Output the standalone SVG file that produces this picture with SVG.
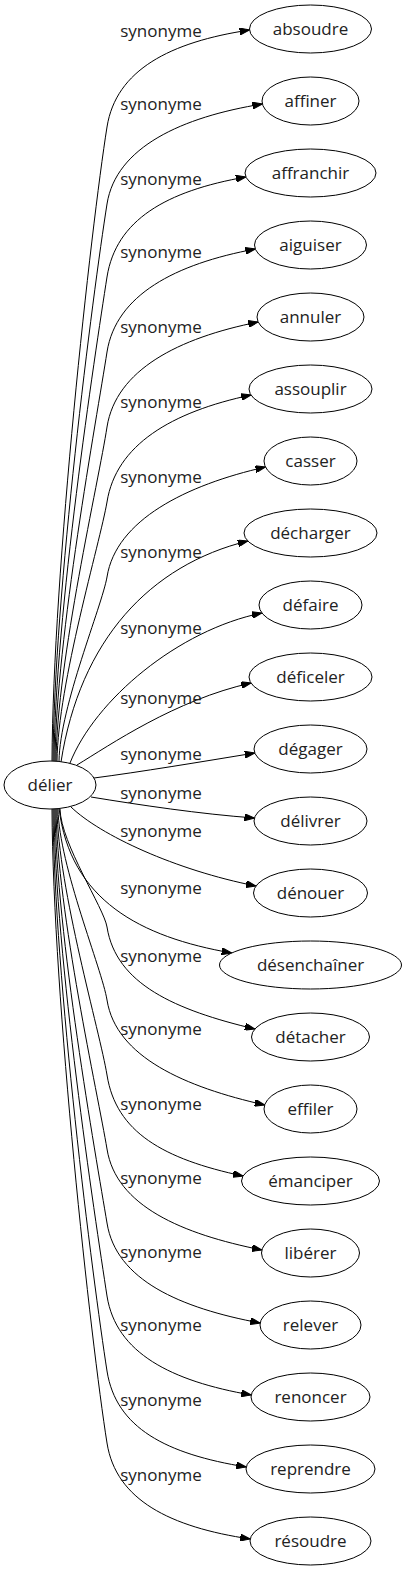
<svg xmlns="http://www.w3.org/2000/svg" width="407" height="1571" viewBox="0 0 407 1571">
<defs>
<marker id="arr" markerUnits="userSpaceOnUse" markerWidth="10" markerHeight="7" refX="10" refY="3.5" orient="auto">
<path d="M0,0 L10,3.5 L0,7 z" fill="#000" stroke="#000" stroke-width="1"/>
</marker>
<style>
.n ellipse{fill:#fff;stroke:#000;stroke-width:1}
.n text{font-family:"Open Sans","DejaVu Sans",sans-serif;font-size:17px;fill:#222;text-anchor:middle}
.e path{fill:none;stroke:#000;stroke-width:1;marker-end:url(#arr)}
.e text{font-family:"Open Sans","DejaVu Sans",sans-serif;font-size:17px;fill:#222;text-anchor:middle}
</style>
</defs>
<rect width="407" height="1571" fill="#fff"/>
<g id="connectors" class="e">
<path d="M52,761 C53,571 91,228 107,127 C116,70 170,42 249.6,30"/>
<path d="M53,761 C54,594 93,293 107,204 C116,147 182,117 262.4,104"/>
<path d="M54,761 C55,616 95,354 107,277 C116,220 166,191 245.9,177"/>
<path d="M55,761 C56,638 97,417 107,352 C116,295 175,264 255.3,249"/>
<path d="M56,761 C57,661 99,480 107,427 C116,370 178,338 258.2,322"/>
<path d="M57,761 C58,683 100,543 107,502 C116,445 171,412 251,395"/>
<path d="M59,761 C60,706 102,606 107,577 C116,520 186,485 265.5,467"/>
<path d="M61,762 C80,640 150,565 247.8,541"/>
<path d="M70,763 C95,700 178,630 261.9,613"/>
<path d="M77,765 C110,745 175,700 251,683"/>
<path d="M94,778 C140,772 200,762 254.8,753"/>
<path d="M91,797 C140,805 200,814 254.5,818"/>
<path d="M71,807 C100,835 175,870 256,886"/>
<path d="M59,808 C70,900 140,937 231.7,953"/>
<path d="M60,809 C61,844 104,908 107,927 C116,984 175,1010 254.9,1029"/>
<path d="M58,809 C59,866 102,969 107,1000 C116,1057 185,1087 264.7,1105"/>
<path d="M57,809 C58,889 100,1032 107,1075 C116,1132 163,1159 243,1176"/>
<path d="M56,809 C57,911 98,1095 107,1149 C116,1206 182,1234 261.9,1250"/>
<path d="M55,809 C56,933 96,1157 107,1223 C116,1280 180,1308 260.2,1323"/>
<path d="M54,809 C55,955 95,1218 107,1296 C116,1353 171,1381 251.2,1395"/>
<path d="M53,809 C54,978 93,1281 107,1371 C116,1428 166,1454 246.2,1467"/>
<path d="M52,809 C53,999 91,1342 107,1443 C116,1500 170,1527 250.2,1539"/>
<text x="161" y="37">synonyme</text>
<text x="161" y="110">synonyme</text>
<text x="161" y="185">synonyme</text>
<text x="161" y="258">synonyme</text>
<text x="161" y="333">synonyme</text>
<text x="161" y="408">synonyme</text>
<text x="161" y="483">synonyme</text>
<text x="161" y="558">synonyme</text>
<text x="161" y="634">synonyme</text>
<text x="161" y="704">synonyme</text>
<text x="161" y="760">synonyme</text>
<text x="161" y="799">synonyme</text>
<text x="161" y="837">synonyme</text>
<text x="161" y="894">synonyme</text>
<text x="161" y="962">synonyme</text>
<text x="161" y="1035">synonyme</text>
<text x="161" y="1110">synonyme</text>
<text x="161" y="1184">synonyme</text>
<text x="161" y="1258">synonyme</text>
<text x="161" y="1331">synonyme</text>
<text x="161" y="1406">synonyme</text>
<text x="161" y="1481">synonyme</text>
</g>
<g id="delier" class="n"><ellipse cx="50" cy="785" rx="46" ry="24"/><text x="50" y="790.5">délier</text></g>
<g id="absoudre" class="n"><ellipse cx="310.5" cy="29" rx="61" ry="24"/><text x="310.5" y="34.5">absoudre</text></g>
<g id="affiner" class="n"><ellipse cx="310.5" cy="101" rx="48.5" ry="24"/><text x="310.5" y="106.5">affiner</text></g>
<g id="affranchir" class="n"><ellipse cx="310.5" cy="173" rx="65.5" ry="24"/><text x="310.5" y="178.5">affranchir</text></g>
<g id="aiguiser" class="n"><ellipse cx="310.5" cy="245" rx="56" ry="24"/><text x="310.5" y="250.5">aiguiser</text></g>
<g id="annuler" class="n"><ellipse cx="310.5" cy="317" rx="53.5" ry="24"/><text x="310.5" y="322.5">annuler</text></g>
<g id="assouplir" class="n"><ellipse cx="310.5" cy="389" rx="61.5" ry="24"/><text x="310.5" y="394.5">assouplir</text></g>
<g id="casser" class="n"><ellipse cx="310.5" cy="461" rx="46.5" ry="24"/><text x="310.5" y="466.5">casser</text></g>
<g id="decharger" class="n"><ellipse cx="310.5" cy="533" rx="66.5" ry="24"/><text x="310.5" y="538.5">décharger</text></g>
<g id="defaire" class="n"><ellipse cx="310.5" cy="605" rx="51.5" ry="24"/><text x="310.5" y="610.5">défaire</text></g>
<g id="deficeler" class="n"><ellipse cx="310.5" cy="677" rx="61.5" ry="24"/><text x="310.5" y="682.5">déficeler</text></g>
<g id="degager" class="n"><ellipse cx="310.5" cy="749" rx="56.5" ry="24"/><text x="310.5" y="754.5">dégager</text></g>
<g id="delivrer" class="n"><ellipse cx="310.5" cy="821" rx="56.5" ry="24"/><text x="310.5" y="826.5">délivrer</text></g>
<g id="denouer" class="n"><ellipse cx="310.5" cy="893" rx="57" ry="24"/><text x="310.5" y="898.5">dénouer</text></g>
<g id="desenchainer" class="n"><ellipse cx="310.5" cy="965" rx="91" ry="24"/><text x="310.5" y="970.5">désenchaîner</text></g>
<g id="detacher" class="n"><ellipse cx="310.5" cy="1037" rx="59" ry="24"/><text x="310.5" y="1042.5">détacher</text></g>
<g id="effiler" class="n"><ellipse cx="310.5" cy="1109" rx="46.5" ry="24"/><text x="310.5" y="1114.5">effiler</text></g>
<g id="emanciper" class="n"><ellipse cx="310.5" cy="1181" rx="69" ry="24"/><text x="310.5" y="1186.5">émanciper</text></g>
<g id="liberer" class="n"><ellipse cx="310.5" cy="1253" rx="49" ry="24"/><text x="310.5" y="1258.5">libérer</text></g>
<g id="relever" class="n"><ellipse cx="310.5" cy="1325" rx="50.5" ry="24"/><text x="310.5" y="1330.5">relever</text></g>
<g id="renoncer" class="n"><ellipse cx="310.5" cy="1397" rx="59.5" ry="24"/><text x="310.5" y="1402.5">renoncer</text></g>
<g id="reprendre" class="n"><ellipse cx="310.5" cy="1469" rx="64.5" ry="24"/><text x="310.5" y="1474.5">reprendre</text></g>
<g id="resoudre" class="n"><ellipse cx="310.5" cy="1541" rx="60.5" ry="24"/><text x="310.5" y="1546.5">résoudre</text></g>
</svg>
